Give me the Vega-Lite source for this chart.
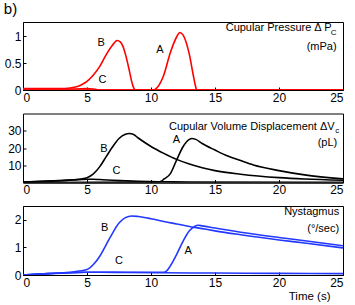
{
  "$schema": "https://vega.github.io/schema/vega-lite/v6.json",
  "padding": {"left": 3, "top": 2, "right": 5, "bottom": 2},
  "title": {"text": "b)", "anchor": "start", "frame": "bounds", "fontSize": 15, "fontWeight": "normal", "font": "Liberation Sans", "offset": 4, "color": "black"},
  "spacing": 23.5,
  "bounds": "flush",
  "config": {
    "view": {"stroke": "black", "strokeWidth": 1},
    "axis": {"grid": false, "domainColor": "black", "tickColor": "black", "tickSize": -3, "labelColor": "black", "labelFont": "Liberation Sans", "labelFontSize": 12, "labelPadding": 5, "titleFont": "Liberation Sans", "titleFontSize": 11.5, "titleFontWeight": "normal", "titleColor": "black", "format": "~r"},
    "text": {"font": "Liberation Sans", "fontSize": 11, "color": "black"}
  },
  "datasets": {
    "pressure": [
      {"s": "B", "t": 0, "v": 0.025}, {"s": "B", "t": 3, "v": 0.027}, {"s": "B", "t": 3.5, "v": 0.033}, {"s": "B", "t": 4, "v": 0.05}, {"s": "B", "t": 4.5, "v": 0.09}, {"s": "B", "t": 5, "v": 0.16}, {"s": "B", "t": 5.5, "v": 0.28}, {"s": "B", "t": 6, "v": 0.44}, {"s": "B", "t": 6.5, "v": 0.66}, {"s": "B", "t": 7, "v": 0.84}, {"s": "B", "t": 7.35, "v": 0.925}, {"s": "B", "t": 7.6, "v": 0.9}, {"s": "B", "t": 7.8, "v": 0.82}, {"s": "B", "t": 8, "v": 0.67}, {"s": "B", "t": 8.3, "v": 0.37}, {"s": "B", "t": 8.5, "v": 0.15}, {"s": "B", "t": 8.65, "v": 0.04}, {"s": "B", "t": 8.8, "v": 0.0}, {"s": "B", "t": 25, "v": 0.0},
      {"s": "C", "t": 0, "v": 0.02}, {"s": "C", "t": 4, "v": 0.02}, {"s": "C", "t": 5, "v": 0.026}, {"s": "C", "t": 5.5, "v": 0.02}, {"s": "C", "t": 5.8, "v": 0.005}, {"s": "C", "t": 6, "v": 0.0}, {"s": "C", "t": 25, "v": 0.0},
      {"s": "A", "t": 0, "v": 0.0}, {"s": "A", "t": 10, "v": 0.0}, {"s": "A", "t": 10.3, "v": 0.01}, {"s": "A", "t": 10.5, "v": 0.05}, {"s": "A", "t": 11, "v": 0.28}, {"s": "A", "t": 11.5, "v": 0.69}, {"s": "A", "t": 12, "v": 0.99}, {"s": "A", "t": 12.25, "v": 1.075}, {"s": "A", "t": 12.5, "v": 1.03}, {"s": "A", "t": 13, "v": 0.66}, {"s": "A", "t": 13.3, "v": 0.28}, {"s": "A", "t": 13.5, "v": 0.05}, {"s": "A", "t": 13.6, "v": 0.0}, {"s": "A", "t": 25, "v": 0.0}
    ],
    "volume": [
      {"s": "B", "t": 0, "v": 0.3}, {"s": "B", "t": 2, "v": 0.8}, {"s": "B", "t": 4, "v": 1.6}, {"s": "B", "t": 5, "v": 2.8}, {"s": "B", "t": 5.5, "v": 5}, {"s": "B", "t": 6, "v": 9.2}, {"s": "B", "t": 6.5, "v": 15}, {"s": "B", "t": 7, "v": 20.7}, {"s": "B", "t": 7.5, "v": 25.5}, {"s": "B", "t": 8, "v": 28}, {"s": "B", "t": 8.3, "v": 28.4}, {"s": "B", "t": 8.6, "v": 28}, {"s": "B", "t": 9, "v": 25.8}, {"s": "B", "t": 10, "v": 20.9}, {"s": "B", "t": 11, "v": 16.9}, {"s": "B", "t": 12, "v": 13.4}, {"s": "B", "t": 13, "v": 10.7}, {"s": "B", "t": 14, "v": 8.6}, {"s": "B", "t": 15, "v": 6.9}, {"s": "B", "t": 17, "v": 4.8}, {"s": "B", "t": 20, "v": 2.8}, {"s": "B", "t": 22, "v": 2.0}, {"s": "B", "t": 25, "v": 1.3},
      {"s": "C", "t": 0, "v": 0.2}, {"s": "C", "t": 2, "v": 0.8}, {"s": "C", "t": 4, "v": 1.5}, {"s": "C", "t": 5, "v": 1.9}, {"s": "C", "t": 5.5, "v": 1.9}, {"s": "C", "t": 6, "v": 1.7}, {"s": "C", "t": 7, "v": 1.3}, {"s": "C", "t": 8, "v": 1.0}, {"s": "C", "t": 9, "v": 0.7}, {"s": "C", "t": 10, "v": 0.5}, {"s": "C", "t": 11, "v": 0.4}, {"s": "C", "t": 13, "v": 0.3}, {"s": "C", "t": 25, "v": 0.15},
      {"s": "A", "t": 0, "v": 0.0}, {"s": "A", "t": 10.5, "v": 0.3}, {"s": "A", "t": 10.8, "v": 0.7}, {"s": "A", "t": 11, "v": 1.9}, {"s": "A", "t": 11.5, "v": 5}, {"s": "A", "t": 12, "v": 13}, {"s": "A", "t": 12.5, "v": 20.7}, {"s": "A", "t": 13, "v": 25}, {"s": "A", "t": 13.2, "v": 25.5}, {"s": "A", "t": 13.5, "v": 25}, {"s": "A", "t": 14, "v": 22.6}, {"s": "A", "t": 15, "v": 18.8}, {"s": "A", "t": 16, "v": 15.3}, {"s": "A", "t": 17, "v": 12.7}, {"s": "A", "t": 18, "v": 10.2}, {"s": "A", "t": 20, "v": 6.9}, {"s": "A", "t": 22, "v": 4.4}, {"s": "A", "t": 25, "v": 2.1}
    ],
    "nystagmus": [
      {"s": "B", "t": 0, "v": 0.0}, {"s": "B", "t": 2, "v": 0.05}, {"s": "B", "t": 4, "v": 0.12}, {"s": "B", "t": 5, "v": 0.2}, {"s": "B", "t": 5.5, "v": 0.38}, {"s": "B", "t": 6, "v": 0.68}, {"s": "B", "t": 6.5, "v": 1.1}, {"s": "B", "t": 7, "v": 1.52}, {"s": "B", "t": 7.5, "v": 1.88}, {"s": "B", "t": 8, "v": 2.08}, {"s": "B", "t": 8.5, "v": 2.14}, {"s": "B", "t": 9, "v": 2.12}, {"s": "B", "t": 10, "v": 2.04}, {"s": "B", "t": 11, "v": 1.94}, {"s": "B", "t": 12, "v": 1.85}, {"s": "B", "t": 13, "v": 1.76}, {"s": "B", "t": 14, "v": 1.68}, {"s": "B", "t": 15, "v": 1.6}, {"s": "B", "t": 17, "v": 1.46}, {"s": "B", "t": 20, "v": 1.27}, {"s": "B", "t": 22, "v": 1.16}, {"s": "B", "t": 25, "v": 0.98},
      {"s": "C", "t": 0, "v": 0.0}, {"s": "C", "t": 2, "v": 0.05}, {"s": "C", "t": 4, "v": 0.08}, {"s": "C", "t": 5, "v": 0.1}, {"s": "C", "t": 6, "v": 0.1}, {"s": "C", "t": 8, "v": 0.09}, {"s": "C", "t": 11, "v": 0.08}, {"s": "C", "t": 15, "v": 0.07}, {"s": "C", "t": 20, "v": 0.06}, {"s": "C", "t": 25, "v": 0.05},
      {"s": "A", "t": 0, "v": 0.0}, {"s": "A", "t": 2, "v": 0.05}, {"s": "A", "t": 5, "v": 0.1}, {"s": "A", "t": 8, "v": 0.1}, {"s": "A", "t": 11, "v": 0.1}, {"s": "A", "t": 11.2, "v": 0.14}, {"s": "A", "t": 11.5, "v": 0.32}, {"s": "A", "t": 12, "v": 0.74}, {"s": "A", "t": 12.5, "v": 1.22}, {"s": "A", "t": 13, "v": 1.6}, {"s": "A", "t": 13.4, "v": 1.76}, {"s": "A", "t": 13.7, "v": 1.8}, {"s": "A", "t": 14, "v": 1.78}, {"s": "A", "t": 15, "v": 1.7}, {"s": "A", "t": 17, "v": 1.55}, {"s": "A", "t": 20, "v": 1.36}, {"s": "A", "t": 22, "v": 1.24}, {"s": "A", "t": 25, "v": 1.06}
    ],
    "labels": [
      {"panel": 1, "t": 6.1, "v": 0.88, "text": "B"}, {"panel": 1, "t": 10.7, "v": 0.75, "text": "A"}, {"panel": 1, "t": 6.2, "v": 0.19, "text": "C"},
      {"panel": 2, "t": 6.33, "v": 19.2, "text": "B"}, {"panel": 2, "t": 11.98, "v": 24.6, "text": "A"}, {"panel": 2, "t": 7.3, "v": 6.9, "text": "C"},
      {"panel": 3, "t": 6.38, "v": 1.71, "text": "B"}, {"panel": 3, "t": 12.9, "v": 0.86, "text": "A"}, {"panel": 3, "t": 7.5, "v": 0.5, "text": "C"}
    ],
    "notes": [
      {"panel": 1, "kind": "main", "t": 24.1, "v": 1.16, "text": "Cupular Pressure Δ P"},
      {"panel": 1, "kind": "sub", "t": 24.5, "v": 1.07, "text": "C"},
      {"panel": 1, "kind": "main", "t": 24.5, "v": 0.81, "text": "(mPa)"},
      {"panel": 2, "kind": "main", "t": 24.35, "v": 32.3, "text": "Cupular Volume Displacement ΔV"},
      {"panel": 2, "kind": "sub", "t": 24.7, "v": 29.8, "text": "c"},
      {"panel": 2, "kind": "main", "t": 24.55, "v": 22.9, "text": "(pL)"},
      {"panel": 3, "kind": "main", "t": 24.7, "v": 2.29, "text": "Nystagmus"},
      {"panel": 3, "kind": "main", "t": 24.7, "v": 1.68, "text": "(°/sec)"}
    ]
  },
  "vconcat": [
    {
      "width": 320, "height": 68,
      "encoding": {
        "x": {"field": "t", "type": "quantitative", "scale": {"domain": [0, 25], "nice": false}, "axis": {"values": [0, 5, 10, 15, 20, 25], "title": null}},
        "y": {"field": "v", "type": "quantitative", "scale": {"domain": [0, 1.27], "nice": false, "zero": false}, "axis": {"values": [0, 0.5, 1], "title": null}}
      },
      "layer": [
        {"data": {"name": "pressure"}, "mark": {"type": "line", "color": "#ff0000", "strokeWidth": 1.6, "interpolate": "monotone", "clip": true}, "encoding": {"detail": {"field": "s"}}},
        {"data": {"name": "labels"}, "transform": [{"filter": "datum.panel == 1"}], "mark": {"type": "text", "align": "center", "baseline": "middle"}, "encoding": {"text": {"field": "text"}}},
        {"data": {"name": "notes"}, "transform": [{"filter": "datum.panel == 1 && datum.kind == 'main'"}], "mark": {"type": "text", "align": "right", "baseline": "middle"}, "encoding": {"text": {"field": "text"}}},
        {"data": {"name": "notes"}, "transform": [{"filter": "datum.panel == 1 && datum.kind == 'sub'"}], "mark": {"type": "text", "align": "right", "baseline": "middle", "fontSize": 8}, "encoding": {"text": {"field": "text"}}}
      ]
    },
    {
      "width": 320, "height": 69,
      "encoding": {
        "x": {"field": "t", "type": "quantitative", "scale": {"domain": [0, 25], "nice": false}, "axis": {"values": [0, 5, 10, 15, 20, 25], "title": null}},
        "y": {"field": "v", "type": "quantitative", "scale": {"domain": [0, 40], "nice": false}, "axis": {"values": [10, 20, 30], "title": null}}
      },
      "layer": [
        {"data": {"name": "volume"}, "mark": {"type": "line", "color": "#000000", "strokeWidth": 1.6, "interpolate": "monotone", "clip": true}, "encoding": {"detail": {"field": "s"}}},
        {"data": {"name": "labels"}, "transform": [{"filter": "datum.panel == 2"}], "mark": {"type": "text", "align": "center", "baseline": "middle"}, "encoding": {"text": {"field": "text"}}},
        {"data": {"name": "notes"}, "transform": [{"filter": "datum.panel == 2 && datum.kind == 'main'"}], "mark": {"type": "text", "align": "right", "baseline": "middle"}, "encoding": {"text": {"field": "text"}}},
        {"data": {"name": "notes"}, "transform": [{"filter": "datum.panel == 2 && datum.kind == 'sub'"}], "mark": {"type": "text", "align": "right", "baseline": "middle", "fontSize": 8}, "encoding": {"text": {"field": "text"}}}
      ]
    },
    {
      "width": 320, "height": 69,
      "encoding": {
        "x": {"field": "t", "type": "quantitative", "scale": {"domain": [0, 25], "nice": false}, "axis": {"values": [0, 5, 10, 15, 20, 25], "title": "Time (s)", "titleAlign": "right", "titleX": 307, "titlePadding": 2}},
        "y": {"field": "v", "type": "quantitative", "scale": {"domain": [0, 2.5], "nice": false}, "axis": {"values": [0, 1, 2], "title": null}}
      },
      "layer": [
        {"data": {"name": "nystagmus"}, "mark": {"type": "line", "color": "#2238ff", "strokeWidth": 1.6, "interpolate": "monotone", "clip": true}, "encoding": {"detail": {"field": "s"}}},
        {"data": {"name": "labels"}, "transform": [{"filter": "datum.panel == 3"}], "mark": {"type": "text", "align": "center", "baseline": "middle"}, "encoding": {"text": {"field": "text"}}},
        {"data": {"name": "notes"}, "transform": [{"filter": "datum.panel == 3 && datum.kind == 'main'"}], "mark": {"type": "text", "align": "right", "baseline": "middle"}, "encoding": {"text": {"field": "text"}}}
      ]
    }
  ]
}
